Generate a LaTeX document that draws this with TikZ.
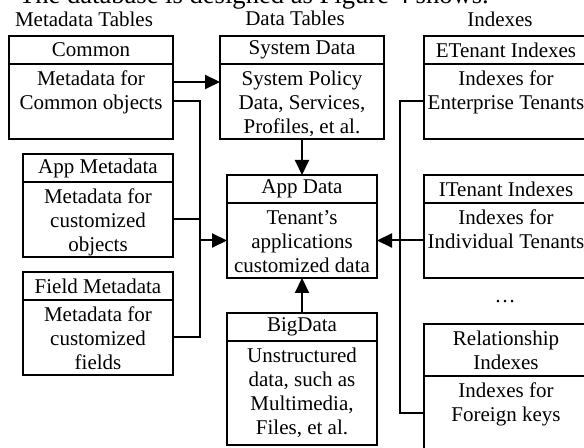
\documentclass[tikz,border=0pt]{standalone}
\usepackage{fontspec}
\setmainfont{Liberation Serif}
\usetikzlibrary{arrows.meta}

\begin{document}
\begin{tikzpicture}[x=0.5pt, y=-0.5pt, line width=1pt,
    >={Triangle[length=7.5pt,width=7pt]},
    every node/.style={font=\fontsize{10.5}{12}\selectfont, inner sep=0pt, outer sep=0pt},
    two/.style={text height=23pt, text depth=14.5pt}]

        \useasboundingbox (0,0) rectangle (584,448);
        \clip (0,0) rectangle (584,448);

        \node[anchor=base west, font=\fontsize{13.3}{16}\selectfont] (0) at (19,4) {The database is designed as Figure 4 shows.};

        \begin{scope}[every node/.append style={anchor=base}]
          \node (12) at (84,27)  {Metadata Tables};
          \node (13) at (295,26) {Data Tables};
          \node (14) at (500,27) {Indexes};
        \end{scope}

        \node (15) at (505,302) {…};

        \begin{scope}[every node/.append style={draw, align=center, anchor=north, minimum height=14pt}]
          \node[minimum width=82pt] (1t) at (91,36)  {Common};
          \node[minimum width=75pt] (2t) at (98,154) {App Metadata};
          \node[minimum width=75pt] (3t) at (98,272) {Field Metadata};
          \node[minimum width=82pt] (4t) at (302,36) {System Data};
          \node[minimum width=75pt] (5t) at (302,175) {App Data};
          \node[minimum width=75pt] (6t) at (302,313) {BigData};
          \node[minimum width=82pt] (7t) at (506,36) {ETenant Indexes};
          \node[minimum width=82pt] (8t) at (506,175) {ITenant Indexes};
          \node[minimum width=82pt, minimum height=26pt] (9t) at (506,324) {Relationship\\Indexes};
        \end{scope}

        % body text hangs from the top: height = last baseline below top
        \begin{scope}[every node/.append style={draw, align=center, anchor=north, text height=35pt, text depth=2.5pt}]
          \node[minimum width=82pt, two] (1) at (1t.south) {Metadata for\\Common objects};
          \node[minimum width=75pt] (2) at (2t.south) {Metadata for\\customized\\objects};
          \node[minimum width=75pt] (3) at (3t.south) {Metadata for\\customized\\fields};
          \node[minimum width=82pt] (4) at (4t.south) {System Policy\\Data, Services,\\Profiles, et al.};
          \node[minimum width=75pt] (5) at (5t.south) {Tenant’s\\applications\\customized data};
          \node[minimum width=75pt, text height=47pt, text depth=5pt] (6) at (6t.south) {Unstructured\\data, such as\\Multimedia,\\Files, et al.};
          \node[minimum width=82pt, two] (7) at (7t.south) {Indexes for\\Enterprise Tenants};
          \node[minimum width=82pt, two] (8) at (8t.south) {Indexes for\\Individual Tenants};
          \node[minimum width=82pt, two] (9) at (9t.south) {Indexes for\\Foreign keys};
        \end{scope}

        \coordinate (10) at (200,0);
        \coordinate (11) at (400,0);

        \draw[->] ([yshift=9.75pt]1.east) -- ([yshift=9.75pt]1.east -| 4.west);
        \draw (1.east) -- (1.east -| 10) -- (3.east -| 10) -- (3.east);
        \draw (2.east) -- (2.east -| 10);
        \draw[->] (5.west -| 10) -- (5.west);
        \draw[->] (4.south) -- (5t.north);
        \draw[->] (6t.north) -- (5.south);
        \draw (7.west) -- (7.west -| 11) -- (9.west -| 11) -- (9.west);
        \draw[->] (8.west) -- (5.east);

      \end{tikzpicture}
\end{document}
